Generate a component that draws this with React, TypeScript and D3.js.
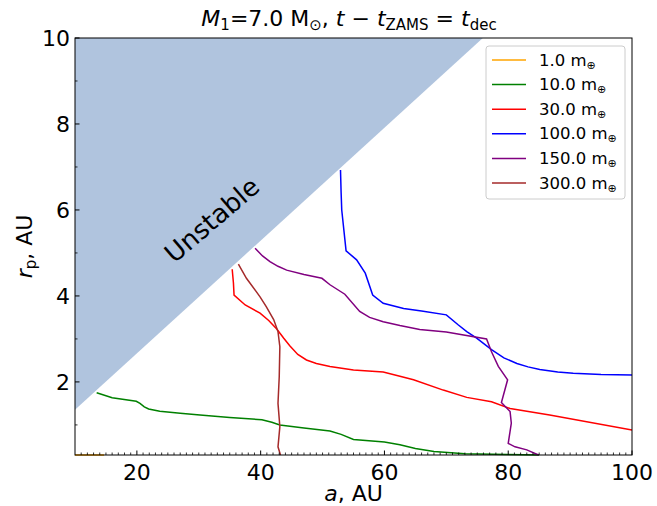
import React from "react";
import * as d3 from "d3";

const W = 657;
const H = 506;
const M = { left: 75, right: 632, top: 38, bottom: 455 };

const xDomain = [10, 100];
const yDomain = [0.3, 10];
const xMajorTicks = [20, 40, 60, 80, 100];
const yMajorTicks = [2, 4, 6, 8, 10];
const yMinorTicks = [1, 3, 5, 7, 9];

// unstable region boundary (a, r_p)
const unstableA = [10, 10, 75.9];
const unstableR = [10, 1.35, 10];

const seriesLabels = ["1.0", "10.0", "30.0", "100.0", "150.0", "300.0"];
const seriesColors = ["#ffa500", "#008000", "#ff0000", "#0000ff", "#800080", "#a52a2a"];

const m1: [number, number][] = [[10, 0.3], [14.7, 0.3]];
const m10: [number, number][] = [
  [13.5, 1.75], [16, 1.63], [19.9, 1.55], [20.5, 1.5], [21.2, 1.42], [21.9, 1.37], [23.7, 1.32],
  [27, 1.27], [30.2, 1.23], [35, 1.17], [40.2, 1.12], [41.8, 1.06], [43.1, 1.0], [47, 0.93],
  [51.2, 0.86], [53, 0.78], [55, 0.66], [60, 0.6], [62.5, 0.54], [65, 0.45], [68, 0.38],
  [73, 0.33], [80, 0.31], [85, 0.3],
];
const m30: [number, number][] = [
  [35.4, 4.62], [35.6, 4.3], [35.7, 4.02], [37.5, 3.79], [39.9, 3.6], [41.3, 3.43], [42.6, 3.23],
  [43.7, 3.02], [44.7, 2.84], [46, 2.64], [47.4, 2.51], [49, 2.43], [51.2, 2.36], [55, 2.28],
  [59.8, 2.23], [62.5, 2.13], [64.7, 2.05], [69.5, 1.81], [73.3, 1.64], [77.3, 1.54], [80.3, 1.38],
  [86.7, 1.23], [100, 0.88],
];
const m100: [number, number][] = [
  [52.9, 6.93], [53.0, 6.4], [53.1, 6.0], [53.8, 5.05], [55.5, 4.84], [56.9, 4.53], [58.1, 4.02],
  [59.8, 3.83], [63.1, 3.71], [66, 3.65], [70, 3.56], [71.9, 3.33], [73.3, 3.17], [74.9, 3.02],
  [77.3, 2.75], [79.3, 2.56], [81.4, 2.43], [83.2, 2.35], [85.1, 2.29], [88, 2.23], [90.5, 2.2],
  [95, 2.17], [100, 2.16],
];
const m150: [number, number][] = [
  [39.1, 5.11], [40.3, 4.93], [41.5, 4.8], [42.8, 4.69], [44.2, 4.6], [47, 4.5], [49.9, 4.41],
  [51.2, 4.26], [53.6, 4.04], [56, 3.64], [57.6, 3.5], [59.8, 3.4], [62.5, 3.31], [65.7, 3.22],
  [70, 3.16], [76.5, 3.0], [77.3, 2.7], [78.4, 2.36], [79.9, 2.05], [78.9, 1.52], [80.3, 1.31],
  [80.5, 1.04], [80, 0.57], [81.1, 0.49], [83, 0.42], [84.9, 0.3],
];
const m300: [number, number][] = [
  [36.4, 4.74], [37.7, 4.41], [39.9, 3.98], [40.9, 3.75], [42.1, 3.45], [42.8, 3.17], [43.1, 2.82],
  [43, 2.12], [42.8, 1.5], [43.1, 0.96], [42.8, 0.49], [43.2, 0.3],
];
const seriesData = [m1, m10, m30, m100, m150, m300];

const FONT = "DejaVu Sans, sans-serif";

export default function App() {
  const x = d3.scaleLinear().domain(xDomain).range([M.left, M.right]);
  const y = d3.scaleLinear().domain(yDomain).range([M.bottom, M.top]);
  const line = d3
    .line<[number, number]>()
    .x((d) => x(d[0]))
    .y((d) => y(d[1]));

  const polyPts = unstableA.map((a, i) => `${x(a)},${y(unstableR[i])}`).join(" ");
  const xMinor = d3.range(11, 100).filter((v) => !xMajorTicks.includes(v));

  const legendX = 486;
  const legendY = 46;
  const legendStep = 24.6;

  return (
    <svg width={W} height={H} style={{ position: "absolute", left: 0, top: 0 }} fontFamily={FONT}>
      <rect x={0} y={0} width={W} height={H} fill="#fff" />
      <defs>
        <clipPath id="plotclip">
          <rect x={M.left} y={M.top - 1} width={M.right - M.left} height={M.bottom - M.top + 2} />
        </clipPath>
      </defs>
      <polygon points={polyPts} fill="#b0c4de" />
      <text
        x={213}
        y={221}
        fontSize={26}
        textAnchor="middle"
        dominantBaseline="middle"
        transform="rotate(-40.6 213 221)"
        fill="#000"
      >
        Unstable
      </text>
      <g clipPath="url(#plotclip)">
        {seriesData.map((d, i) => (
          <path key={i} d={line(d) || ""} fill="none" stroke={seriesColors[i]} strokeWidth={1.5} />
        ))}
      </g>
      {/* frame */}
      <rect
        x={M.left}
        y={M.top}
        width={M.right - M.left}
        height={M.bottom - M.top}
        fill="none"
        stroke="#000"
        strokeWidth={1}
      />
      {/* x ticks */}
      {xMajorTicks.map((t) => (
        <g key={"xt" + t}>
          <line x1={x(t)} x2={x(t)} y1={M.bottom} y2={M.bottom - 4.5} stroke="#000" strokeWidth={1} />
          <text x={x(t)} y={480} fontSize={22} textAnchor="middle">
            {t}
          </text>
        </g>
      ))}
      {xMinor.map((t) => (
        <line key={"xm" + t} x1={x(t)} x2={x(t)} y1={M.bottom} y2={M.bottom - 2.5} stroke="#000" strokeWidth={0.8} />
      ))}
      {/* y ticks */}
      {yMajorTicks.map((t) => (
        <g key={"yt" + t}>
          <line x1={M.left} x2={M.left + 4.5} y1={y(t)} y2={y(t)} stroke="#000" strokeWidth={1} />
          <text x={70} y={y(t) + 8} fontSize={22} textAnchor="end">
            {t}
          </text>
        </g>
      ))}
      {yMinorTicks.map((t) => (
        <line key={"ym" + t} x1={M.left} x2={M.left + 2.5} y1={y(t)} y2={y(t)} stroke="#000" strokeWidth={0.8} />
      ))}
      {/* axis labels */}
      <text x={(M.left + M.right) / 2} y={501} fontSize={22} textAnchor="middle">
        <tspan fontStyle="italic">a</tspan>
        <tspan>, AU</tspan>
      </text>
      <text
        x={0}
        y={0}
        fontSize={22}
        textAnchor="middle"
        transform={`translate(32 ${(M.top + M.bottom) / 2}) rotate(-90)`}
      >
        <tspan fontStyle="italic">r</tspan>
        <tspan fontSize={15} dy={4}>p</tspan>
        <tspan dy={-4}>, AU</tspan>
      </text>
      {/* title */}
      <text x={349} y={26} fontSize={22} textAnchor="middle">
        <tspan fontStyle="italic">M</tspan>
        <tspan fontSize={15} dy={4}>1</tspan>
        <tspan dy={-4}>=7.0 M</tspan>
        <tspan fontSize={15} dy={4}>⊙</tspan>
        <tspan dy={-4}>, </tspan>
        <tspan fontStyle="italic">t</tspan>
        <tspan> − </tspan>
        <tspan fontStyle="italic">t</tspan>
        <tspan fontSize={15} dy={4}>ZAMS</tspan>
        <tspan dy={-4}> = </tspan>
        <tspan fontStyle="italic">t</tspan>
        <tspan fontSize={15} dy={4}>dec</tspan>
      </text>
      {/* legend */}
      <rect
        x={legendX}
        y={legendY}
        width={139}
        height={153}
        rx={3}
        fill="#fff"
        fillOpacity={0.8}
        stroke="#cccccc"
        strokeWidth={1}
      />
      {seriesLabels.map((lab, i) => {
        const cy = 60 + i * legendStep;
        return (
          <g key={"lg" + i}>
            <line x1={492} x2={526} y1={cy} y2={cy} stroke={seriesColors[i]} strokeWidth={1.5} />
            <text x={539} y={cy + 5.5} fontSize={16.5}>
              <tspan>{lab} m</tspan>
              <tspan fontSize={11} dy={3}>⊕</tspan>
            </text>
          </g>
        );
      })}
    </svg>
  );
}
